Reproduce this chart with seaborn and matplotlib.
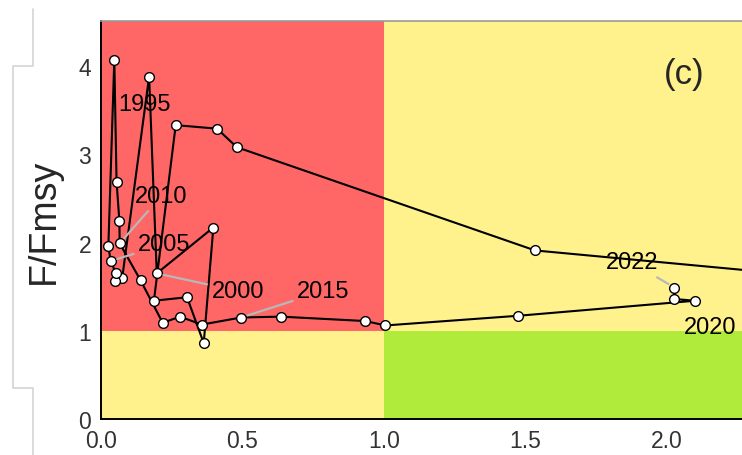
import matplotlib
matplotlib.use("Agg")
import matplotlib.pyplot as plt
from matplotlib.lines import Line2D
import pandas as pd
import seaborn as sns

# Kobe trajectory, one point per year (first year lies beyond the visible x range)
years = list(range(1991, 2023))
b_bmsy = [2.50, 1.534, 0.480, 0.410, 0.264, 0.187, 0.304, 0.363, 0.397, 0.197,
          0.170, 0.075, 0.049, 0.053, 0.034, 0.026, 0.047, 0.055, 0.065, 0.066,
          0.140, 0.218, 0.279, 0.356, 0.495, 0.635, 0.934, 1.005, 1.475, 2.099,
          2.026, 2.026]
f_fmsy = [1.62, 1.91, 3.08, 3.29, 3.33, 1.34, 1.38, 0.86, 2.17, 1.65,
          3.88, 1.60, 1.56, 1.65, 1.79, 1.96, 4.07, 2.69, 2.24, 1.99,
          1.57, 1.09, 1.16, 1.07, 1.15, 1.16, 1.11, 1.06, 1.17, 1.34,
          1.36, 1.49]
label_years = [1995, 2000, 2005, 2010, 2015, 2020, 2022]

# where the year labels sit (text centre), and whether a leader line is drawn
label_pos = {
    1995: (0.152, 3.57, False),
    2000: (0.484, 1.45, True),
    2005: (0.224, 1.98, True),
    2010: (0.214, 2.53, True),
    2015: (0.786, 1.45, True),
    2020: (2.152, 1.04, False),
    2022: (1.875, 1.775, True),
}

RED = "#FF6666"
YELLOW = "#FFF28C"
GREEN = "#B0EB3C"

df = pd.DataFrame({"year": years, "B/Bmsy": b_bmsy, "F/Fmsy": f_fmsy})

sns.set_style("white")
plt.rcParams["font.family"] = ["Liberation Sans", "DejaVu Sans"]

fig = plt.figure(figsize=(7.42, 4.56), dpi=100)
ax = fig.add_axes([101 / 742, 36 / 456, 1 - 101 / 742, 398 / 456])

xmax, ymax = 2.265, 4.51

# quadrants
ax.fill_between([0, 1], 1, ymax, color=RED, lw=0, zorder=0)
ax.fill_between([1, 3], 1, ymax, color=YELLOW, lw=0, zorder=0)
ax.fill_between([0, 1], 0, 1, color=YELLOW, lw=0, zorder=0)
ax.fill_between([1, 3], 0, 1, color=GREEN, lw=0, zorder=0)

sns.lineplot(data=df, x="B/Bmsy", y="F/Fmsy", sort=False, estimator=None,
             color="black", lw=1.5, marker="o", markersize=7,
             markerfacecolor="white", markeredgecolor="black",
             markeredgewidth=1.0, ax=ax, zorder=3)

for yr in label_years:
    i = years.index(yr)
    tx, ty, leader = label_pos[yr]
    arrow = dict(arrowstyle="-", color="#b8b8b8", lw=1.6,
                 shrinkA=1, shrinkB=5) if leader else None
    ax.annotate(str(yr), xy=(b_bmsy[i], f_fmsy[i]), xytext=(tx, ty),
                ha="center", va="center", fontsize=17, color="black",
                arrowprops=arrow, zorder=4)

ax.text(2.06, 3.92, "(c)", fontsize=25, ha="center", va="center")

ax.set_xlim(0, xmax)
ax.set_ylim(0, ymax)
ax.set_xticks([0.0, 0.5, 1.0, 1.5, 2.0])
ax.set_xticklabels(["0.0", "0.5", "1.0", "1.5", "2.0"])
ax.set_yticks([0, 1, 2, 3, 4])
ax.set_xlabel("")
ax.set_ylabel("F/Fmsy", fontsize=27, labelpad=12)
ax.tick_params(axis="both", direction="out", length=5, width=1.2,
               labelsize=16.5, colors="black", pad=2)
ax.tick_params(axis="both", labelcolor="#333333")

for side in ["left", "bottom"]:
    ax.spines[side].set_color("black")
    ax.spines[side].set_linewidth(1.4)
ax.spines["right"].set_visible(False)
ax.spines["top"].set_color("#999999")
ax.spines["top"].set_linewidth(1.2)

# light bracket left over at the left edge of the panel
bx = [33, 33, 13, 13, 33, 33]
by = [10, 67, 67, 389, 389, 456]
fig.add_artist(Line2D([v / 742 for v in bx], [1 - v / 456 for v in by],
                      color="#d4d4d4", lw=1.2))

fig.savefig("out.png", dpi=100)
